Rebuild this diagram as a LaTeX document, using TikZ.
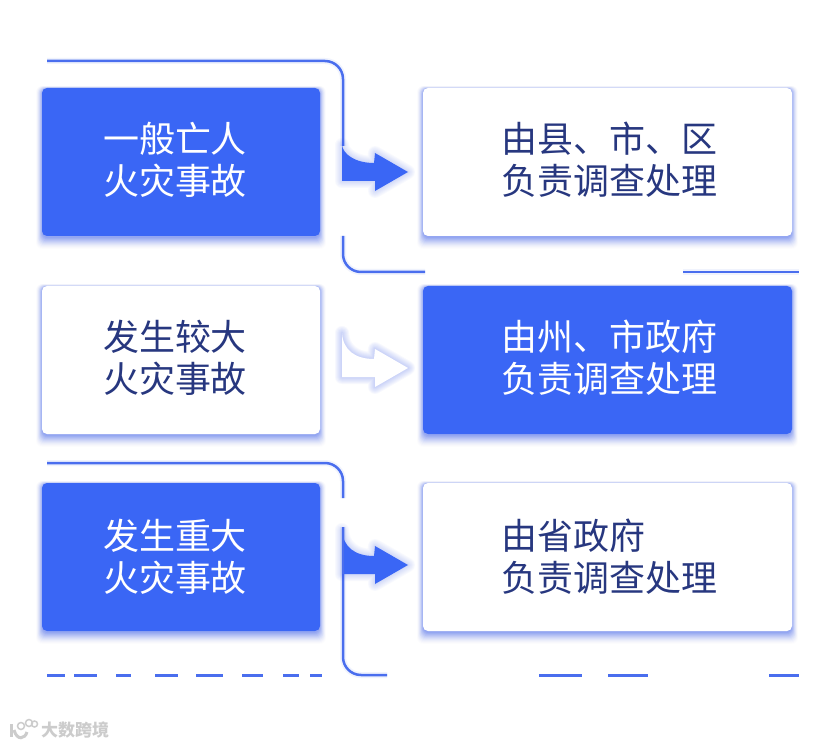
\documentclass[tikz,border=0pt]{standalone}
\usepackage{fontspec}
\setmainfont{Noto Sans CJK SC}
\usetikzlibrary{backgrounds}
\definecolor{mainblue}{HTML}{3A66F5}
\definecolor{lineblue}{HTML}{4A6EEE}
\definecolor{navy}{HTML}{27377F}
\definecolor{glowblue}{HTML}{3A5CF0}
\definecolor{markgrey}{HTML}{CCCCCC}
\newcommand{\up}[2]{\raisebox{#1}[\height][\depth]{#2}}
\tikzset{
  x=1pt,y=-1pt,
  box/.style={minimum width=278pt,minimum height=148pt,rounded corners=5pt,inner sep=0pt,font=\fontsize{36}{42}\selectfont,align=left},
  boxr/.style={box,minimum width=369pt},
  bluebox/.style={fill=mainblue,text=white},
  whitebox/.style={fill=white,text=navy},
  rule/.style={draw=lineblue,line width=2.5pt,rounded corners=18pt,preaction={draw=lineblue,opacity=.08,line width=6pt}},
  flatrule/.style={draw=lineblue,line width=2.5pt,preaction={draw=lineblue,opacity=.08,line width=6pt}},
  dashrule/.style={draw=lineblue,line width=3pt},
}
\newcommand{\softshadow}[1]{%
  \foreach \g in {1,...,12}{%
    \pgfmathsetmacro{\op}{.009*(13-\g)}%
    \fill[glowblue,opacity=\op,rounded corners=6pt]
      ([xshift={-(\g-1.5)*0.55pt},yshift={-\g*1.0pt-1pt}]#1.south west)
      rectangle ([xshift={(\g-1.5)*0.55pt},yshift={(\g-4)*0.25pt}]#1.north east);
  }%
}
\newcommand{\blockarrow}[4]{% tip y, top offset, fill, glow strength
  \begin{scope}[shift={(0,#1)}]
    \foreach \w in {2,4,...,14}{%
      \draw[glowblue,opacity=#4,line width=\w pt,line join=round]
        (342,-#2) .. controls (343,-18) and (355,-9) .. (374,-9) -- (375,-19) -- (408,0) -- (375,19) -- (375,9) -- (342,9) -- cycle;
    }
    \fill[#3] (342,-#2) .. controls (343,-18) and (355,-9) .. (374,-9) -- (375,-19) -- (408,0) -- (375,19) -- (375,9) -- (342,9) -- cycle;
  \end{scope}%
}
\begin{document}
\begin{tikzpicture}
\useasboundingbox (0,0) rectangle (828,746);
\node[box,bluebox,text width=278pt] (a1) at (181,162) {\hspace{61pt}\up{2.5pt}{一般亡人}\\\hspace{61pt}\up{2.5pt}{火灾事故}};
\node[box,whitebox,text width=278pt] (a2) at (181,360) {\hspace{61pt}\up{2.5pt}{发生较大}\\\hspace{61pt}\up{2.5pt}{火灾事故}};
\node[box,bluebox,text width=278pt] (a3) at (181,557) {\hspace{61pt}\up{0.5pt}{发生重大}\\\hspace{61pt}\up{0.5pt}{火灾事故}};
\node[boxr,whitebox,text width=213pt] (b1) at (607.5,162) {\up{2.5pt}{由县、市、区}\\\up{2.5pt}{负责调查处理}};
\node[boxr,bluebox,text width=213pt] (b2) at (607.5,360) {\up{2.5pt}{由州、市政府}\\\up{2.5pt}{负责调查处理}};
\node[boxr,whitebox,text width=213pt] (b3) at (607.5,557) {\up{0.5pt}{由省政府}\\\up{0.5pt}{负责调查处理}};
\begin{scope}[on background layer]
  \fill[white] (0,0) rectangle (828,746);
  \softshadow{a1}\softshadow{a2}\softshadow{a3}
  \softshadow{b1}\softshadow{b2}\softshadow{b3}
\end{scope}
% rules
\coordinate (t1s) at (47,61);
\coordinate (t1c) at (343,61);
\coordinate (t1e) at (343,146);
\coordinate (t2s) at (343,236);
\coordinate (t2c) at (343,272);
\coordinate (t2e) at (425,272);
\coordinate (t2f) at (683,272);
\coordinate (t2g) at (799,272);
\coordinate (t3s) at (47,463);
\coordinate (t3c) at (343,463);
\coordinate (t3e) at (343,498);
\coordinate (t4s) at (343,527);
\coordinate (t4c) at (343,675);
\coordinate (t4e) at (387,675);
\coordinate (d1s) at (47,675);
\coordinate (d1e) at (322,675);
\coordinate (d2s) at (539,675);
\coordinate (d2e) at (799,675);
\path[rule] (t1s) -- (t1c) -- (t1e);
\path[rule] (t2s) -- (t2c) -- (t2e);
\path[flatrule] (t2f) -- (t2g);
\path[rule] (t3s) -- (t3c) -- (t3e);
\path[rule] (t4s) -- (t4c) -- (t4e);
\path[dashrule,dash pattern=on 18pt off 9pt on 23pt off 19pt on 15pt off 24pt on 23pt off 18pt on 27pt off 19pt on 21pt off 20pt on 16pt off 11pt on 12pt off 20pt] (d1s) -- (d1e);
\path[dashrule,dash pattern=on 43pt off 26pt on 40pt off 121pt on 30pt off 20pt] (d2s) -- (d2e);
% block arrows
\blockarrow{172}{27}{mainblue}{.03}
\blockarrow{368}{35}{white}{.04}
\blockarrow{565}{35}{mainblue}{.03}
\path[draw=lineblue,line width=2.5pt] (343,530) -- (343,574);
% watermark
\node[anchor=west,inner sep=0pt,text=markgrey,font=\fontsize{17}{18}\selectfont\bfseries] (mark) at (41,730) {大数跨境};
\begin{scope}[markgrey]
  \draw[line width=1.5pt] (21,726) circle (3.5);
  \draw[line width=1.5pt] (29,723) circle (3.5);
  \draw[line width=1.5pt] (34.5,724) circle (3);
  \draw[line width=3pt] (11,724) -- (11,737);
  \draw[line width=3pt] (14,730) .. controls (17,741) and (25,739) .. (27,732);
\end{scope}
\end{tikzpicture}
\end{document}
